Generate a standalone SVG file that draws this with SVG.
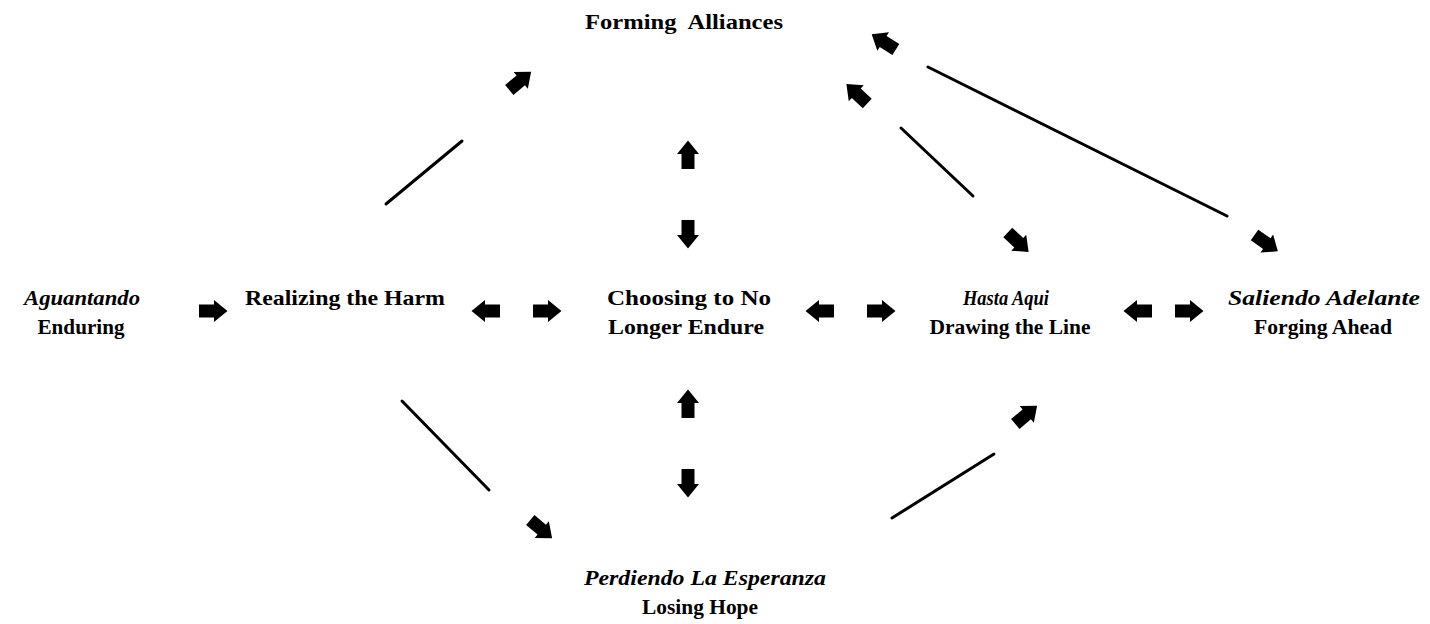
<svg xmlns="http://www.w3.org/2000/svg" xmlns:xlink="http://www.w3.org/1999/xlink" width="1430" height="624" viewBox="0 0 1430 624">
  <style>
    text { font-family: "Liberation Serif", "Times New Roman", serif; font-size: 22px; font-weight: bold; fill: #000; text-anchor: middle; }
    .it { font-style: italic; }
    .ln { stroke: #000; stroke-width: 3; stroke-linecap: round; fill: none; }
  </style>
  <defs>
    <path id="arr" d="M-14,-6.5 L1,-6.5 L1,-11 L14.5,0 L1,11 L1,6.5 L-14,6.5 Z" fill="#000"/>
  </defs>
  <rect width="1430" height="624" fill="#fff"/>

  <g id="connectors">
    <line class="ln" x1="386" y1="204" x2="462" y2="141"/>
    <line class="ln" x1="402" y1="401" x2="489" y2="490"/>
    <line class="ln" x1="892" y1="518" x2="994" y2="454"/>
    <line class="ln" x1="901" y1="128" x2="973" y2="196"/>
    <line class="ln" x1="928" y1="67" x2="1227" y2="216"/>

    <use xlink:href="#arr" href="#arr" transform="translate(213,311)"/>
    <use xlink:href="#arr" href="#arr" transform="translate(486,311) rotate(180)"/>
    <use xlink:href="#arr" href="#arr" transform="translate(547,311)"/>
    <use xlink:href="#arr" href="#arr" transform="translate(820,311) rotate(180)"/>
    <use xlink:href="#arr" href="#arr" transform="translate(881,311)"/>
    <use xlink:href="#arr" href="#arr" transform="translate(1138,311) rotate(180)"/>
    <use xlink:href="#arr" href="#arr" transform="translate(1189,311)"/>

    <use xlink:href="#arr" href="#arr" transform="translate(688,155) rotate(-90)"/>
    <use xlink:href="#arr" href="#arr" transform="translate(688,234) rotate(90)"/>
    <use xlink:href="#arr" href="#arr" transform="translate(688,404) rotate(-90)"/>
    <use xlink:href="#arr" href="#arr" transform="translate(688,483) rotate(90)"/>

    <use xlink:href="#arr" href="#arr" transform="translate(520,81) rotate(-40)"/>
    <use xlink:href="#arr" href="#arr" transform="translate(857,94) rotate(-137)"/>
    <use xlink:href="#arr" href="#arr" transform="translate(884,42) rotate(-148)"/>
    <use xlink:href="#arr" href="#arr" transform="translate(1018,242) rotate(43)"/>
    <use xlink:href="#arr" href="#arr" transform="translate(1266,243) rotate(35)"/>
    <use xlink:href="#arr" href="#arr" transform="translate(541,529) rotate(40)"/>
    <use xlink:href="#arr" href="#arr" transform="translate(1026,415) rotate(-40)"/>
  </g>

  <g id="forming-alliances">
    <text x="684" y="29" textLength="198" lengthAdjust="spacingAndGlyphs" xml:space="preserve">Forming  Alliances</text>
  </g>
  <g id="aguantando">
    <text class="it" x="82" y="305" textLength="116" lengthAdjust="spacingAndGlyphs">Aguantando</text>
    <text x="81" y="334" textLength="87" lengthAdjust="spacingAndGlyphs">Enduring</text>
  </g>
  <g id="realizing">
    <text x="345" y="305" textLength="200" lengthAdjust="spacingAndGlyphs">Realizing the Harm</text>
  </g>
  <g id="choosing">
    <text x="689" y="305" textLength="164" lengthAdjust="spacingAndGlyphs">Choosing to No</text>
    <text x="686" y="334" textLength="156" lengthAdjust="spacingAndGlyphs">Longer Endure</text>
  </g>
  <g id="hasta-aqui">
    <text class="it" x="1006" y="305" textLength="86" lengthAdjust="spacingAndGlyphs">Hasta Aqui</text>
    <text x="1010" y="334" textLength="161" lengthAdjust="spacingAndGlyphs">Drawing the Line</text>
  </g>
  <g id="saliendo">
    <text class="it" x="1324" y="305" textLength="192" lengthAdjust="spacingAndGlyphs">Saliendo Adelante</text>
    <text x="1323" y="334" textLength="138" lengthAdjust="spacingAndGlyphs">Forging Ahead</text>
  </g>
  <g id="perdiendo">
    <text class="it" x="705" y="585" textLength="242" lengthAdjust="spacingAndGlyphs">Perdiendo La Esperanza</text>
    <text x="700" y="614" textLength="116" lengthAdjust="spacingAndGlyphs">Losing Hope</text>
  </g>
</svg>
